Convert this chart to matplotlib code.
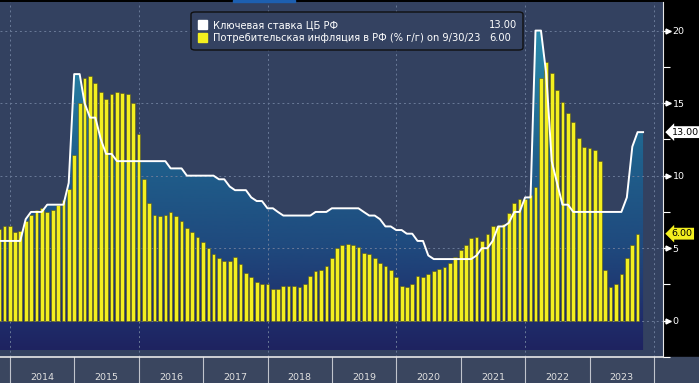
import numpy as np
import pandas as pd
import matplotlib
matplotlib.use('Agg')
import matplotlib.pyplot as plt
import matplotlib.dates as mdates
import matplotlib.transforms as mtransforms
from matplotlib.colors import LinearSegmentedColormap
from matplotlib.patches import Rectangle, FancyBboxPatch
from matplotlib.lines import Line2D

# monthly CPI y/y, Oct 2013 .. Sep 2023 (month-end)
cpi = [6.3, 6.5, 6.5,
       6.1, 6.2, 6.9, 7.3, 7.6, 7.8, 7.5, 7.6, 8.0, 8.3, 9.1, 11.4,
       15.0, 16.7, 16.9, 16.4, 15.8, 15.3, 15.6, 15.8, 15.7, 15.6, 15.0, 12.9,
       9.8, 8.1, 7.3, 7.2, 7.3, 7.5, 7.2, 6.9, 6.4, 6.1, 5.8, 5.4,
       5.0, 4.6, 4.3, 4.1, 4.1, 4.4, 3.9, 3.3, 3.0, 2.7, 2.5, 2.5,
       2.2, 2.2, 2.4, 2.4, 2.4, 2.3, 2.5, 3.1, 3.4, 3.5, 3.8, 4.3,
       5.0, 5.2, 5.3, 5.2, 5.1, 4.7, 4.6, 4.3, 4.0, 3.8, 3.5, 3.0,
       2.4, 2.3, 2.5, 3.1, 3.0, 3.2, 3.4, 3.6, 3.7, 4.0, 4.4, 4.9,
       5.2, 5.7, 5.8, 5.5, 6.0, 6.5, 6.5, 6.7, 7.4, 8.1, 8.4, 8.4,
       8.7, 9.2, 16.7, 17.8, 17.1, 15.9, 15.1, 14.3, 13.7, 12.6, 12.0, 11.9,
       11.8, 11.0, 3.5, 2.3, 2.5, 3.2, 4.3, 5.2, 6.0]

# key rate, month-end, Oct 2013 .. Oct 2023
rate = [5.5, 5.5, 5.5,
        5.5, 5.5, 7.0, 7.5, 7.5, 7.5, 8.0, 8.0, 8.0, 8.0, 9.5, 17.0,
        17.0, 15.0, 14.0, 14.0, 12.5, 11.5, 11.5, 11.0, 11.0, 11.0, 11.0, 11.0,
        11.0, 11.0, 11.0, 11.0, 11.0, 10.5, 10.5, 10.5, 10.0, 10.0, 10.0, 10.0,
        10.0, 10.0, 9.75, 9.75, 9.25, 9.0, 9.0, 9.0, 8.5, 8.25, 8.25, 7.75,
        7.75, 7.5, 7.25, 7.25, 7.25, 7.25, 7.25, 7.25, 7.5, 7.5, 7.5, 7.75,
        7.75, 7.75, 7.75, 7.75, 7.75, 7.5, 7.25, 7.25, 7.0, 6.5, 6.5, 6.25,
        6.25, 6.0, 6.0, 5.5, 5.5, 4.5, 4.25, 4.25, 4.25, 4.25, 4.25, 4.25,
        4.25, 4.25, 4.5, 5.0, 5.0, 5.5, 6.5, 6.5, 6.75, 7.5, 7.5, 8.5,
        8.5, 20.0, 20.0, 17.0, 11.0, 9.5, 8.0, 8.0, 7.5, 7.5, 7.5, 7.5,
        7.5, 7.5, 7.5, 7.5, 7.5, 7.5, 8.5, 12.0, 13.0, 13.0]

cpi_dates = pd.date_range('2013-10-31', periods=len(cpi), freq='ME')
rate_dates = pd.date_range('2013-10-31', periods=len(rate), freq='ME')
years = list(range(2014, 2024))

label_rate = 'Ключевая ставка ЦБ РФ'
label_cpi = 'Потребительская инфляция в РФ (% г/г) on 9/30/23'

W, H = 699, 383
fig = plt.figure(figsize=(W / 100, H / 100), dpi=100)
fig.patch.set_facecolor('black')

def fx(x):
    return x / W

def fy(y):
    return 1 - y / H

ax = fig.add_axes([0, fy(357), fx(663), (357 - 2) / H])
ax.set_facecolor('#334160')
ax.set_zorder(1)

x0 = mdates.date2num(pd.Timestamp('2014-01-01')) - 56.7
x1 = mdates.date2num(pd.Timestamp('2024-01-01')) + 51
ymin, ymax = -2.05, 21.97
ax.set_xlim(x0, x1)
ax.set_ylim(ymin, ymax)

# gradient area under the key rate
rx = mdates.date2num(rate_dates)
poly = ax.fill_between(rx, ymin, rate, color='none', lw=0)
cmap = LinearSegmentedColormap.from_list('g', [(0, '#1e2360'), (0.09, '#1f2d6b'),
                                               (0.3, '#1f4a7e'), (0.55, '#1f608c'),
                                               (1.0, '#2c95b2')])
grad = np.linspace(0, 1, 256).reshape(-1, 1)
im = ax.imshow(grad, cmap=cmap, aspect='auto', origin='lower',
               extent=[x0, x1, ymin, ymax], zorder=1)
im.set_clip_path(poly.get_paths()[0], transform=ax.transData)

# grid
for v in [0, 5, 10, 15, 20]:
    ax.axhline(v, color='#6a7a98', lw=0.7, ls=(0, (2, 3)), zorder=1.5)
for yr in range(2014, 2025, 2):
    ax.axvline(mdates.date2num(pd.Timestamp(f'{yr}-01-01')), color='#6a7a98',
               lw=0.7, ls=(0, (2, 3)), zorder=1.5)

# bars
ax.bar(mdates.date2num(cpi_dates), cpi, width=21, color='#f3ef1f',
       edgecolor='#55551e', lw=0.4, zorder=2)
ax.plot(rx, rate, color='white', lw=1.4, zorder=3)

# right axis
ax.yaxis.tick_right()
ax.set_yticks([0, 5, 10, 15, 20])
ax.set_yticks(np.arange(-2.5, 22, 2.5), minor=True)
ax.tick_params(axis='y', which='major', colors='white', labelsize=6.8, length=6,
               width=1, pad=1)
ax.tick_params(axis='y', which='minor', colors='white', length=5, width=0.8)
ax.set_xticks([])
for s in ['top', 'left']:
    ax.spines[s].set_visible(False)
ax.spines['right'].set_color('#e8e8e8')
ax.spines['bottom'].set_color('#e8e8e8')
ax.spines['bottom'].set_linewidth(1.2)
ytr = mtransforms.blended_transform_factory(ax.transAxes, ax.transData)
ax.plot([1.0] * 5, [0, 5, 10, 15, 20], ls='none', marker='>', ms=3.5,
        color='white', transform=mtransforms.offset_copy(ytr, fig=fig, x=5, y=0, units='dots'),
        clip_on=False, zorder=5)

# value badges
ax.text(1.013, 13.0, '13.00', transform=ytr, ha='left', va='center', fontsize=6.8,
        color='black', bbox=dict(boxstyle='larrow,pad=0.15', fc='white', ec='none'))
ax.text(1.013, 6.0, '6.00', transform=ytr, ha='left', va='center', fontsize=6.8,
        color='black', bbox=dict(boxstyle='larrow,pad=0.15', fc='#f3ef1f', ec='none'))

# bottom band with year labels
fig.patches.append(Rectangle((0, 0), 1, fy(357), transform=fig.transFigure,
                             color='#3a465f', zorder=-1))
fig.patches.append(Rectangle((fx(233), fy(2)), fx(62), 2 / H, transform=fig.transFigure,
                             color='#1d5fb0'))
xtr = ax.get_xaxis_transform()
for yr in range(2014, 2025):
    d = mdates.date2num(pd.Timestamp(f'{yr}-01-01'))
    ax.plot([d, d], [0, -26 / 355], transform=xtr, color='#c0c4cc', lw=0.8, clip_on=False)
for yr in years:
    mid = mdates.date2num(pd.Timestamp(f'{yr}-07-02'))
    ax.text(mid, -20 / 355, str(yr), transform=xtr, ha='center', va='center',
            fontsize=6.8, color='#e0e0e0')

# legend box
fig.patches.append(FancyBboxPatch((fx(191), fy(50)), fx(332), 38 / H,
                                  boxstyle='round,pad=0,rounding_size=0.006',
                                  transform=fig.transFigure, fc='#344261', ec='#101010',
                                  lw=1, zorder=6))
fig.patches.append(Rectangle((fx(198), fy(29)), fx(9), 9 / H, transform=fig.transFigure,
                             color='white', zorder=7))
fig.patches.append(Rectangle((fx(198), fy(42)), fx(9), 9 / H, transform=fig.transFigure,
                             color='#f3ef1f', zorder=7))
fig.text(fx(213), fy(25), label_rate, fontsize=7.1, color='white', va='center', zorder=8)
fig.text(fx(213), fy(38), label_cpi, fontsize=7.1, color='white', va='center', zorder=8)
fig.text(fx(517), fy(25), f'{rate[-1]:.2f}', fontsize=7.1, color='white', va='center',
         ha='right', zorder=8)
fig.text(fx(511), fy(38), f'{cpi[-1]:.2f}', fontsize=7.1, color='white', va='center',
         ha='right', zorder=8)

fig.savefig('out.png', dpi=100, facecolor=fig.get_facecolor())
